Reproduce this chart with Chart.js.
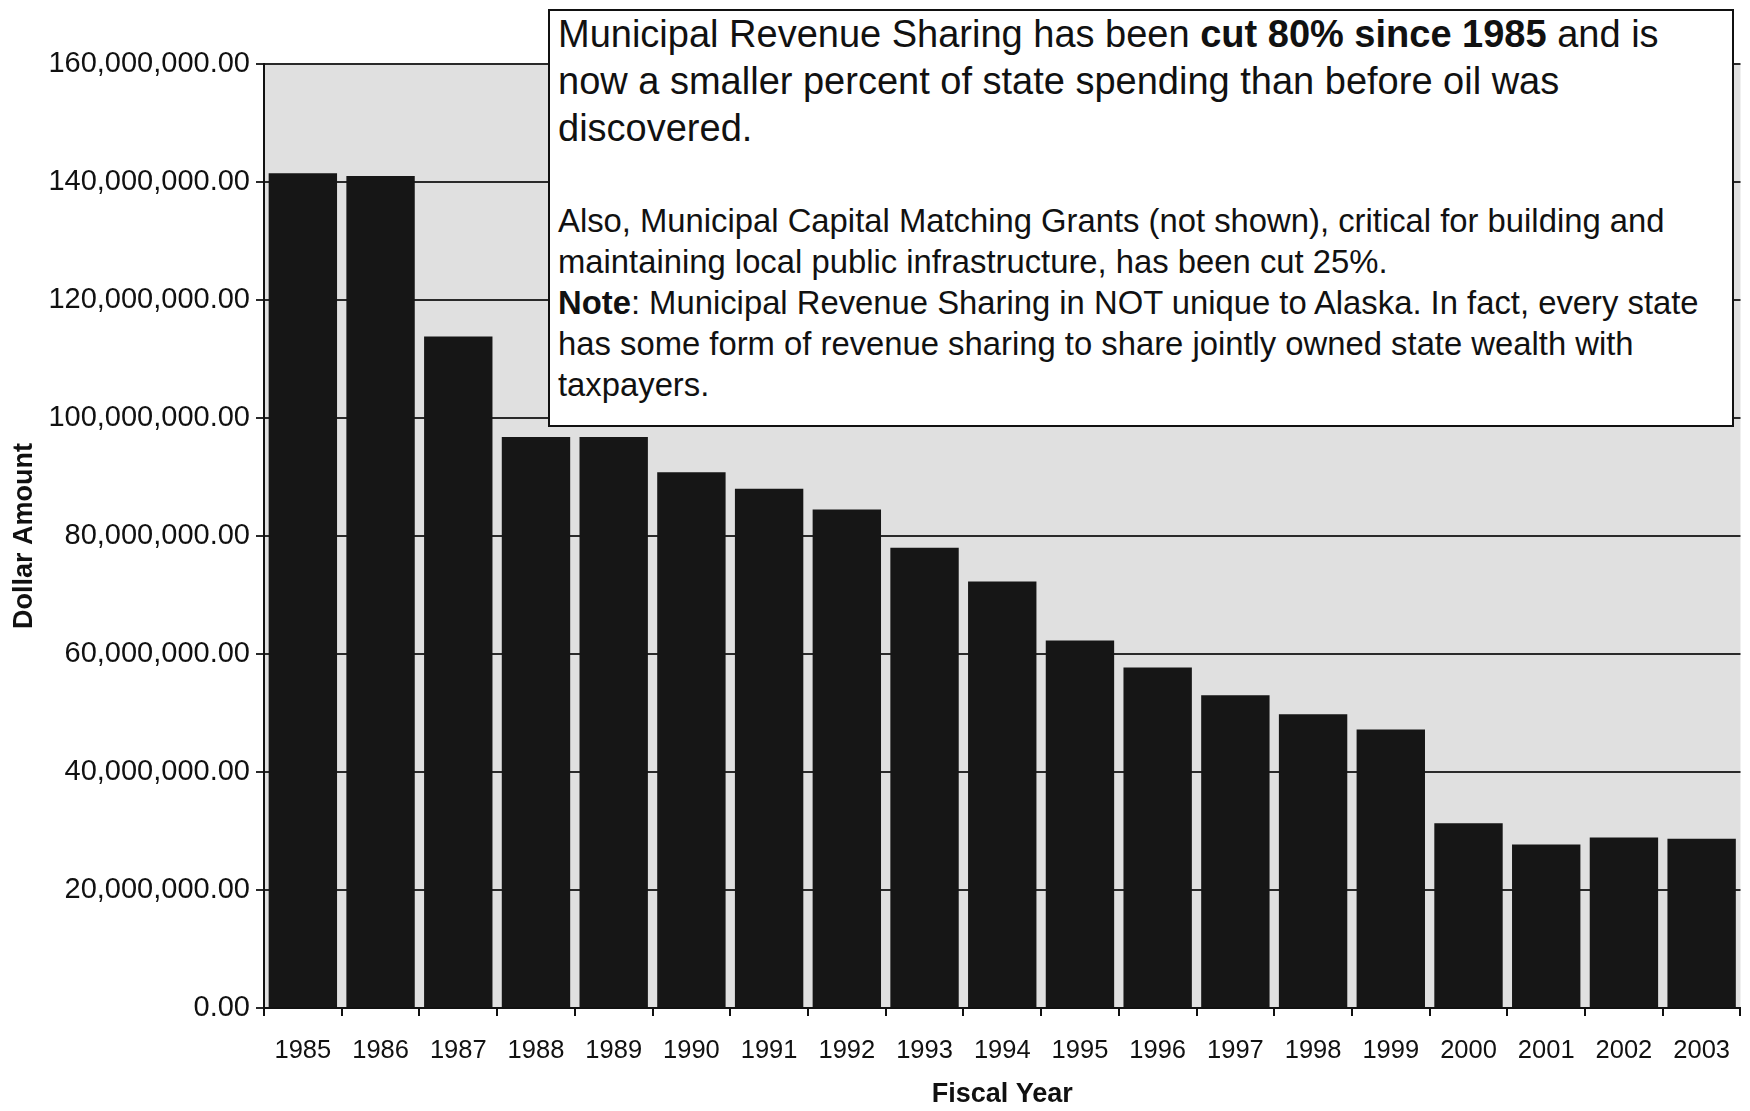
<!DOCTYPE html>
<html lang="en">
<head>
  <meta charset="UTF-8" />
  <title>Municipal Revenue Sharing</title>
  <script src="https://cdn.jsdelivr.net/npm/chart.js"></script>
  <style>
    body {
      margin: 0;
      background: #fff;
      font-family: "Liberation Sans", Arial, sans-serif;
    }
    #wrap {
      position: relative;
      width: 1750px;
      height: 1111px;
    }
    #note {
      position: absolute;
      left: 548px;
      top: 9px;
      width: 1166px;
      height: 400px;
      padding: 0 8px 14px 8px;
      background: #fff;
      border: 2px solid #111;
      color: #111;
      white-space: nowrap;
      overflow: hidden;
    }
    #note .lead {
      font-size: 38px;
      line-height: 47px;
    }
    #note .rest {
      font-size: 32.8px;
      line-height: 41px;
      margin-top: 48px;
    }
  </style>
</head>
<body>

<div id="wrap">
  <canvas id="revChart" width="1750" height="1111"></canvas>
  <div id="note">
    <div class="lead">Municipal Revenue Sharing has been <b>cut 80% since 1985</b> and is<br>now a smaller percent of state spending than before oil was<br>discovered.</div>
    <div class="rest">Also, Municipal Capital Matching Grants (not shown), critical for building and<br>maintaining local public infrastructure, has been cut 25%.<br><b>Note</b>: Municipal Revenue Sharing in NOT unique to Alaska. In fact, every state<br>has some form of revenue sharing to share jointly owned state wealth with<br>taxpayers.</div>
  </div>
</div>

<script>
  const years = ["1985", "1986", "1987", "1988", "1989", "1990", "1991", "1992", "1993", "1994",
                 "1995", "1996", "1997", "1998", "1999", "2000", "2001", "2002", "2003"];

  // dollars (1991 is hidden under the torn patch, estimated)
  const revenueSharing = [141500000, 141000000, 113800000, 96800000, 96800000, 90800000, 88000000,
                          84500000, 78000000, 72300000, 62300000, 57700000, 53000000, 49800000,
                          47200000, 31300000, 27700000, 28900000, 28700000];

  const yMax = 160000000;
  const yStep = 20000000;

  const plotBg = {
    id: "plotBg",
    beforeDraw(chart) {
      const { ctx, chartArea: a } = chart;
      ctx.save();
      ctx.fillStyle = "#e0e0e0";
      ctx.fillRect(a.left, a.top, a.right - a.left, a.bottom - a.top);
      ctx.restore();
    }
  };

  const fmt = v => v.toLocaleString("en-US", { minimumFractionDigits: 2, maximumFractionDigits: 2 });

  new Chart(document.getElementById("revChart"), {
    type: "bar",
    data: {
      labels: years,
      datasets: [{
        label: "Municipal Revenue Sharing",
        data: revenueSharing,
        backgroundColor: "#161616",
        borderWidth: 0,
        barPercentage: 0.88,
        categoryPercentage: 1.0
      }]
    },
    options: {
      responsive: false,
      animation: false,
      layout: { padding: { top: 64, right: 0, bottom: 0, left: 0 } },
      plugins: {
        legend: { display: false },
        tooltip: { enabled: false }
      },
      scales: {
        x: {
          afterFit: s => { s.height = 103; },
          grid: { drawOnChartArea: false, drawTicks: true, tickLength: 8, color: "#111", lineWidth: 2 },
          border: { display: true, color: "#111", width: 2 },
          ticks: { color: "#111", padding: 20, font: { family: "Liberation Sans", size: 25.5 } },
          title: {
            display: true, text: "Fiscal Year", color: "#111",
            font: { family: "Liberation Sans", size: 27, weight: "bold" },
            padding: { top: 0, bottom: 0 }
          }
        },
        y: {
          min: 0,
          max: yMax,
          afterFit: s => { s.width = 264; },
          grid: { color: "#2a2a2a", lineWidth: 2, drawTicks: true, tickLength: 8 },
          border: { display: true, color: "#111", width: 2 },
          ticks: {
            stepSize: yStep, color: "#111", padding: 6,
            font: { family: "Liberation Sans", size: 29 },
            callback: v => fmt(v)
          },
          title: {
            display: true, text: "Dollar Amount", color: "#111",
            font: { family: "Liberation Sans", size: 27, weight: "bold" },
            padding: { top: 8, bottom: 4 }
          }
        }
      }
    },
    plugins: [plotBg]
  });
</script>

</body>
</html>
